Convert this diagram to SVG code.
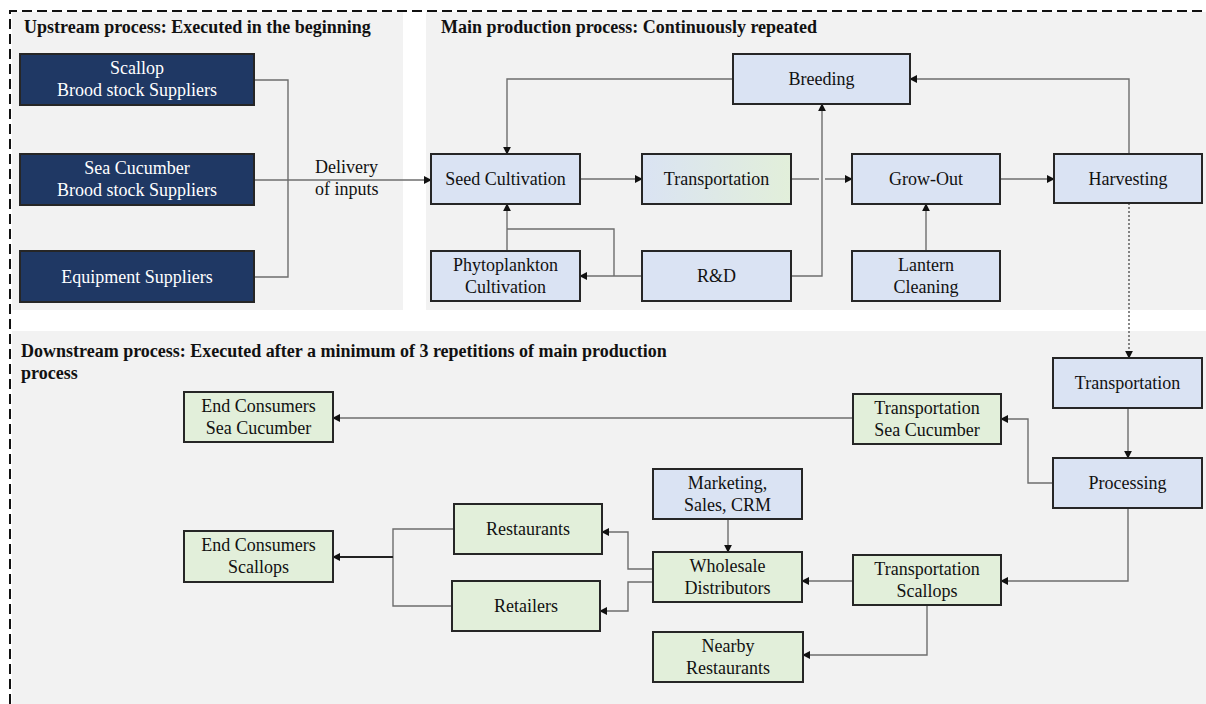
<svg xmlns="http://www.w3.org/2000/svg" width="1206" height="704" viewBox="0 0 1206 704">
<style>
.panel{fill:#f2f2f2}
.nd{stroke:#262626;stroke-width:2}
.navy{fill:#1f3864}
.blue{fill:#dae3f3}
.green{fill:#e2efda}
text{font-family:'Liberation Serif','Times New Roman',Times,'DejaVu Serif',serif}
.t{font-size:18px;fill:#111;text-anchor:middle}
.tw{fill:#fff}
.title{font-size:18px;font-weight:bold;fill:#111}
.c{fill:none;stroke:#6e6e6e;stroke-width:1.4}
.ca{marker-end:url(#ah)}
.dot{stroke-dasharray:2 2;stroke:#555}
.dark{stroke:#222;stroke-width:2}
</style>
<defs>
<marker id="ah" viewBox="0 0 10 10" refX="9" refY="5" markerWidth="8" markerHeight="8" markerUnits="userSpaceOnUse" orient="auto">
<path d="M0,0 L10,5 L0,10 z" fill="#111"/>
</marker>
<linearGradient id="gb" x1="0" x2="1" y1="0" y2="0">
<stop offset="0" stop-color="#dae3f3"/>
<stop offset="1" stop-color="#e2efda"/>
</linearGradient>
</defs>
<rect width="1206" height="704" fill="#fff"/>
<rect class="panel" x="12" y="12" width="391" height="298"/>
<rect class="panel" x="426" y="12" width="780" height="298"/>
<rect class="panel" x="12" y="331" width="1194" height="373"/>
<path d="M10,704 V11 H1206" fill="none" stroke="#111" stroke-width="2" stroke-dasharray="10 5"/>
<text class="title" x="24" y="33">Upstream process: Executed in the beginning</text>
<text class="title" x="441" y="33">Main production process: Continuously repeated</text>
<text class="title" x="21" y="357">Downstream process: Executed after a minimum of 3 repetitions of main production</text>
<text class="title" x="21" y="379">process</text>
<g id="connectors">
<path class="c" d="M254,80 H288 V277 H254"/>
<path class="c ca" d="M254,180 H431"/>
<text class="t" x="315" y="173" style="text-anchor:start">Delivery</text>
<text class="t" x="315" y="195" style="text-anchor:start">of inputs</text>
<path class="c ca" d="M733,79 H507 V154"/>
<path class="c ca" d="M580,179 H642"/>
<path class="c" d="M791,179 H819"/>
<path class="c ca" d="M825,179 H852"/>
<path class="c ca" d="M1000,179 H1054"/>
<path class="c ca" d="M1129,154 V79 H910"/>
<path class="c ca" d="M791,276 H822 V104"/>
<path class="c ca" d="M642,276 H580"/>
<path class="c" d="M614,276 V229 H507"/>
<path class="c ca" d="M507,251 V204"/>
<path class="c ca" d="M926,251 V204"/>
<path class="c ca dot" d="M1129,203 V358"/>
<path class="c ca" d="M1128,408 V458"/>
<path class="c ca" d="M1053,483 H1028 V419 H1001"/>
<path class="c ca" d="M853,418 H333"/>
<path class="c ca" d="M1128,508 V581 H1001"/>
<path class="c ca" d="M853,581 H802"/>
<path class="c ca" d="M927,605 V655 H803"/>
<path class="c ca" d="M728,519 V552"/>
<path class="c ca" d="M653,569 H628 V532 H602"/>
<path class="c ca" d="M653,582 H628 V611 H600"/>
<path class="c" d="M454,529 H393 V606 H452"/>
<path class="c ca dark" d="M393,557 H333"/>
</g>
<g id="n-scallop-brood"><rect class="nd navy" x="20" y="54" width="234" height="51"/><text class="t tw" x="137" y="74">Scallop</text><text class="t tw" x="137" y="96">Brood stock Suppliers</text></g>
<g id="n-seacuc-brood"><rect class="nd navy" x="20" y="154" width="234" height="51"/><text class="t tw" x="137" y="174">Sea Cucumber</text><text class="t tw" x="137" y="196">Brood stock Suppliers</text></g>
<g id="n-equipment"><rect class="nd navy" x="20" y="251" width="234" height="51"/><text class="t tw" x="137" y="283">Equipment Suppliers</text></g>
<g id="n-breeding"><rect class="nd blue" x="733" y="54" width="177" height="50"/><text class="t" x="821.5" y="85">Breeding</text></g>
<g id="n-seed"><rect class="nd blue" x="431" y="154" width="149" height="50"/><text class="t" x="505.5" y="185">Seed Cultivation</text></g>
<g id="n-transport1"><rect class="nd" fill="url(#gb)" x="642" y="154" width="149" height="50"/><text class="t" x="716.5" y="185">Transportation</text></g>
<g id="n-growout"><rect class="nd blue" x="852" y="154" width="148" height="50"/><text class="t" x="926" y="185">Grow-Out</text></g>
<g id="n-harvest"><rect class="nd blue" x="1054" y="154" width="148" height="49"/><text class="t" x="1128" y="185">Harvesting</text></g>
<g id="n-phyto"><rect class="nd blue" x="431" y="251" width="149" height="50"/><text class="t" x="505.5" y="271">Phytoplankton</text><text class="t" x="505.5" y="293">Cultivation</text></g>
<g id="n-rnd"><rect class="nd blue" x="642" y="251" width="149" height="50"/><text class="t" x="716.5" y="282">R&amp;D</text></g>
<g id="n-lantern"><rect class="nd blue" x="852" y="251" width="148" height="50"/><text class="t" x="926" y="271">Lantern</text><text class="t" x="926" y="293">Cleaning</text></g>
<g id="n-transport2"><rect class="nd blue" x="1053" y="358" width="149" height="50"/><text class="t" x="1127.5" y="389">Transportation</text></g>
<g id="n-processing"><rect class="nd blue" x="1053" y="458" width="149" height="50"/><text class="t" x="1127.5" y="489">Processing</text></g>
<g id="n-trans-seacuc"><rect class="nd green" x="853" y="394" width="148" height="50"/><text class="t" x="927" y="414">Transportation</text><text class="t" x="927" y="436">Sea Cucumber</text></g>
<g id="n-trans-scallops"><rect class="nd green" x="853" y="555" width="148" height="50"/><text class="t" x="927" y="575">Transportation</text><text class="t" x="927" y="597">Scallops</text></g>
<g id="n-end-seacuc"><rect class="nd green" x="184" y="392" width="149" height="50"/><text class="t" x="258.5" y="412">End Consumers</text><text class="t" x="258.5" y="434">Sea Cucumber</text></g>
<g id="n-end-scallops"><rect class="nd green" x="184" y="531" width="149" height="51"/><text class="t" x="258.5" y="551">End Consumers</text><text class="t" x="258.5" y="573">Scallops</text></g>
<g id="n-marketing"><rect class="nd blue" x="653" y="469" width="149" height="50"/><text class="t" x="727.5" y="489">Marketing,</text><text class="t" x="727.5" y="511">Sales, CRM</text></g>
<g id="n-restaurants"><rect class="nd green" x="454" y="504" width="148" height="50"/><text class="t" x="528" y="535">Restaurants</text></g>
<g id="n-wholesale"><rect class="nd green" x="653" y="552" width="149" height="50"/><text class="t" x="727.5" y="572">Wholesale</text><text class="t" x="727.5" y="594">Distributors</text></g>
<g id="n-retailers"><rect class="nd green" x="452" y="581" width="148" height="50"/><text class="t" x="526" y="612">Retailers</text></g>
<g id="n-nearby"><rect class="nd green" x="653" y="632" width="150" height="50"/><text class="t" x="728" y="652">Nearby</text><text class="t" x="728" y="674">Restaurants</text></g>
</svg>
